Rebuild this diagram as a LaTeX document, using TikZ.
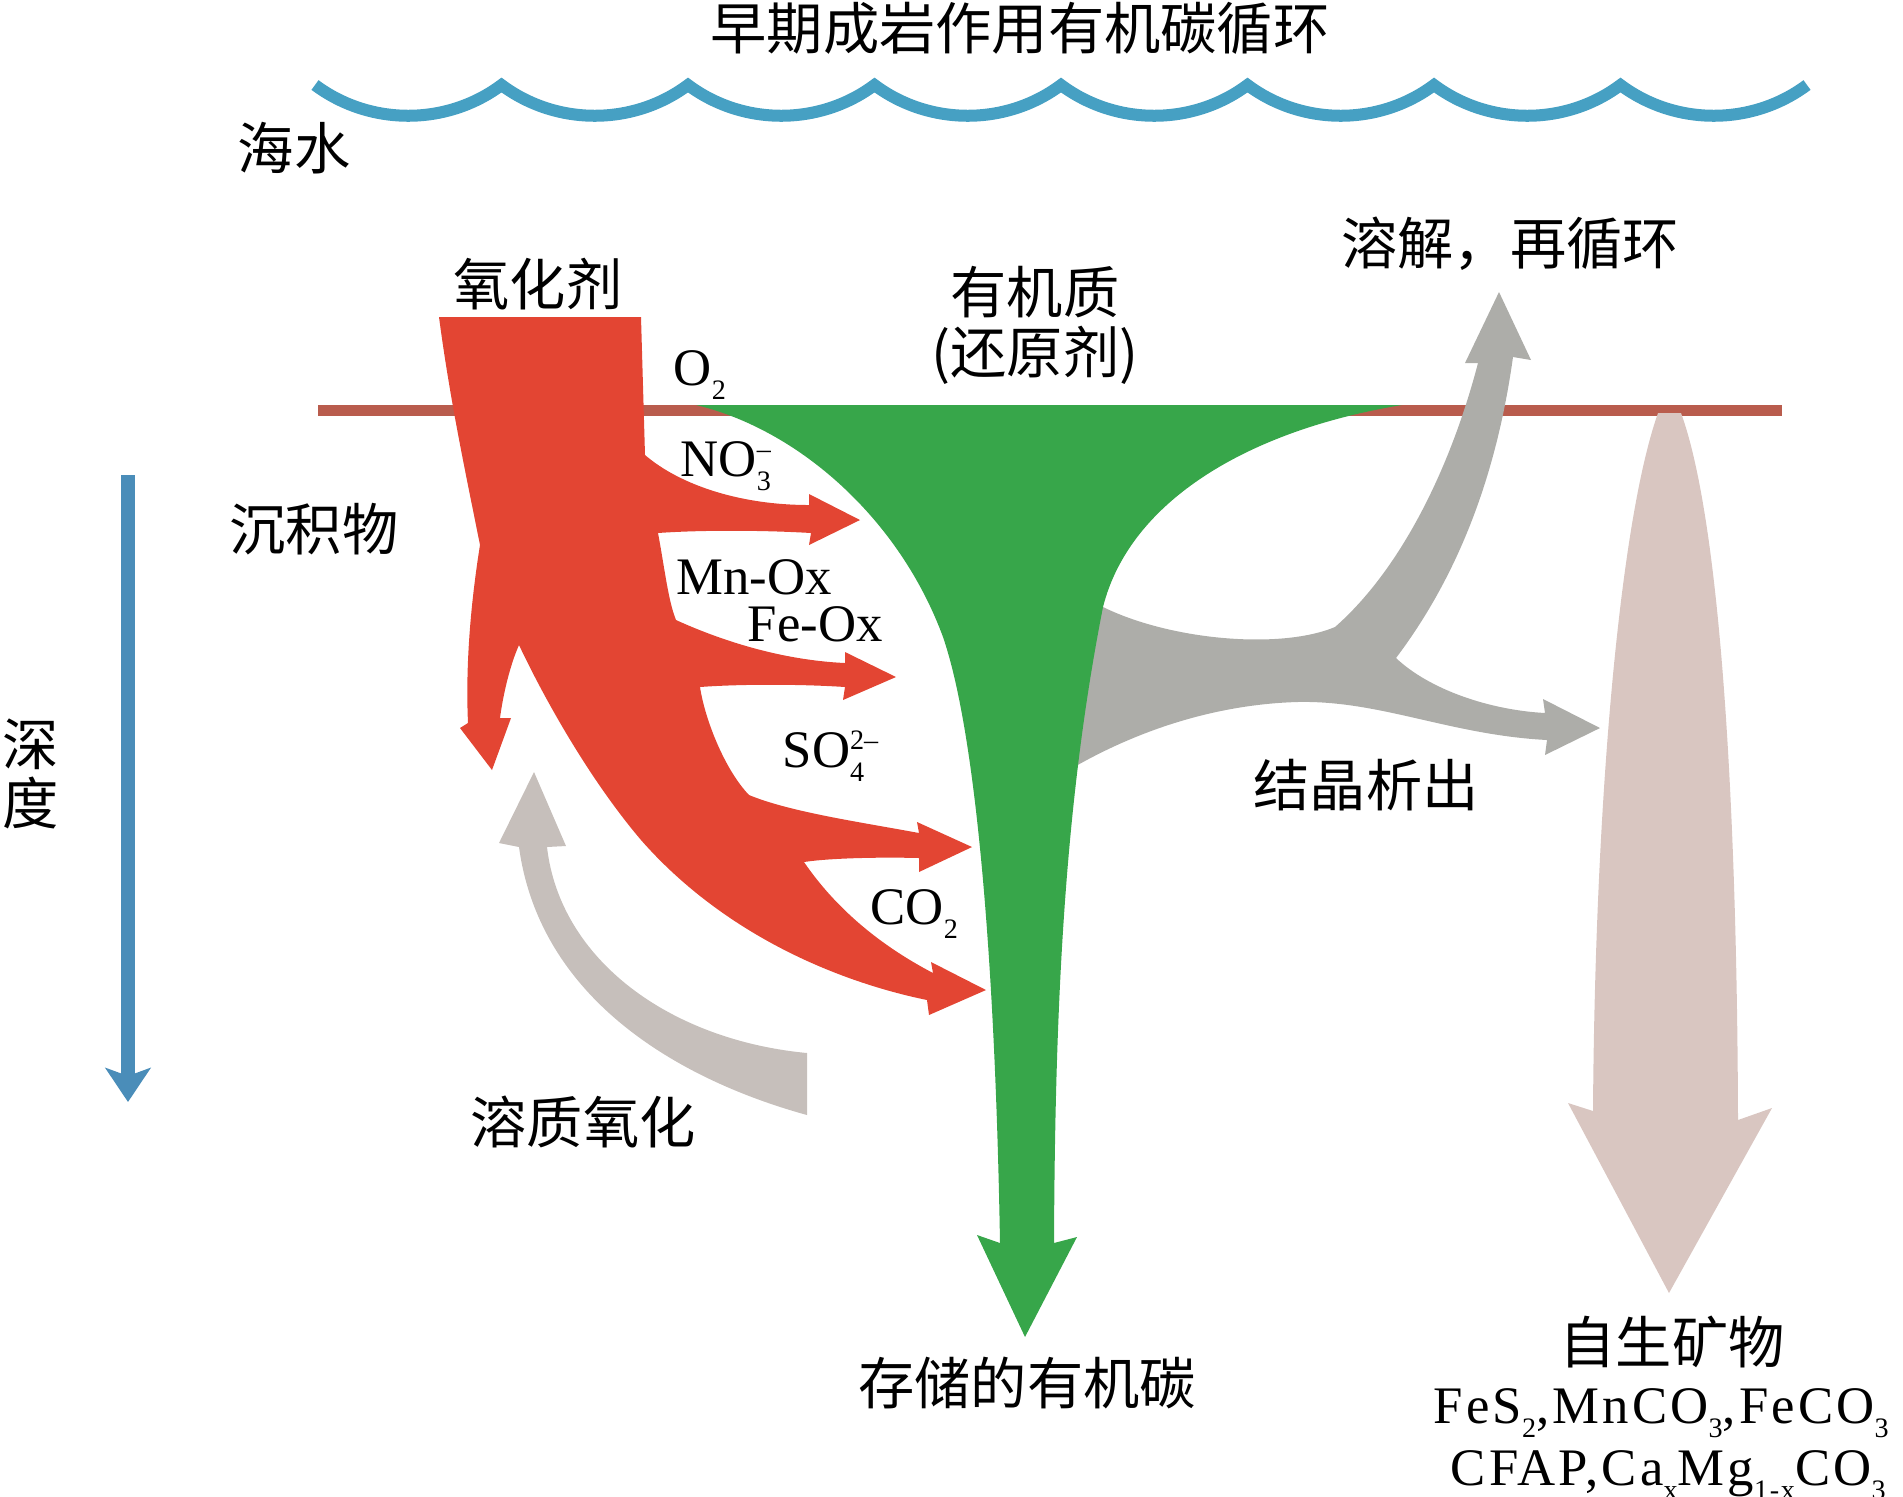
\documentclass[tikz,border=0pt]{standalone}
\usepackage{fontspec}
\setmainfont{Liberation Serif}
\newfontfamily\cjk{Noto Sans CJK SC}
\usetikzlibrary{arrows.meta}
\definecolor{oxred}{HTML}{E34533}
\definecolor{orggreen}{HTML}{37A64A}
\definecolor{crysgray}{HTML}{ADADA9}
\definecolor{solgray}{HTML}{C6BFBB}
\definecolor{minpink}{HTML}{D9C6C1}
\definecolor{seablue}{HTML}{46A0C3}
\definecolor{depthblue}{HTML}{4A8DB9}
\definecolor{sedline}{HTML}{B95C4D}
\newcommand{\chemsub}[1]{\raisebox{-4pt}{\fontsize{8pt}{8pt}\selectfont #1}}
\newcommand{\chemion}[2]{\makebox[0pt][l]{\raisebox{5pt}{\fontsize{8pt}{8pt}\selectfont #2}}\chemsub{#1}}
\tikzset{
  zh/.style={font=\cjk\fontsize{16pt}{17pt}\selectfont, inner sep=0pt},
  lat/.style={font=\fontsize{15pt}{18pt}\selectfont, inner sep=0pt, anchor=base west},
  minlat/.style={lat, font=\addfontfeatures{LetterSpace=6}\fontsize{15pt}{18pt}\selectfont}
}
\begin{document}
\begin{tikzpicture}[x=0.01cm, y=-0.01cm]
  \useasboundingbox (0,0) rectangle (1903,1496);
  % sea surface and sediment surface
  \draw [seablue, line width=0.12cm] (315,85)
    \foreach \k in {1,...,8} { .. controls +(55,41) and +(-55,41) .. ++(186.5,0) };
  \draw [sedline, line width=0.11cm] (318,410) -- (1782,410);
  \draw [depthblue, line width=0.13cm, -{Stealth[length=0.34cm, width=0.45cm, inset=0.08cm]}] (128,475) -- (128,1102);
  % crystallisation / recycling
  \fill [crysgray] (1040,607) -- (1103,607)
    .. controls (1170,640) and (1280,650) .. (1335,627)
    .. controls (1400,570) and (1450,470) .. (1478,363) -- (1465,363) -- (1499,292) -- (1531,360) -- (1513,357)
    .. controls (1500,450) and (1470,560) .. (1396,658)
    .. controls (1430,690) and (1490,710) .. (1545,713) -- (1543,699) -- (1600,728) -- (1545,755) -- (1547,740)
    .. controls (1450,735) and (1380,700) .. (1297,702)
    .. controls (1200,705) and (1120,740) .. (1069,770) -- (1040,770) -- cycle;
  % organic matter
  \fill [orggreen] (696,405) .. controls (800,430) and (900,520) .. (943,637)
    .. controls (975,730) and (995,950) .. (1000,1243) -- (977,1235) -- (1025,1337) -- (1077,1237) -- (1054,1243)
    .. controls (1055,1000) and (1065,800) .. (1103,607)
    .. controls (1130,500) and (1250,430) .. (1402,405) -- cycle;
  % oxidants
  \fill [oxred] (439,317) -- (641,317) -- (645,455)
    .. controls (680,485) and (740,505) .. (809,505) -- (809,494) -- (860,520) -- (809,545) -- (811,533)
    .. controls (760,530) and (700,530) .. (658,533)
    .. controls (665,570) and (668,600) .. (676,620)
    .. controls (720,640) and (780,660) .. (845,663) -- (845,652) -- (896,677) -- (843,700) -- (845,687)
    .. controls (800,684) and (740,684) .. (700,687)
    .. controls (705,720) and (725,770) .. (749,795)
    .. controls (790,812) and (860,822) .. (919,833) -- (917,822) -- (972,847) -- (919,872) -- (919,858)
    .. controls (880,857) and (830,858) .. (804,862)
    .. controls (830,900) and (870,940) .. (933,973) -- (931,962) -- (986,990) -- (929,1015) -- (927,1000)
    .. controls (830,980) and (720,930) .. (641,840)
    .. controls (590,780) and (545,700) .. (519,645)
    .. controls (510,665) and (503,695) .. (500,718) -- (511,718) -- (492,770) -- (460,728) -- (468,723)
    .. controls (466,680) and (468,620) .. (480,545)
    .. controls (465,470) and (450,400) .. (439,317) -- cycle;
  % solute oxidation
  \fill [solgray] (807,1053) -- (807,1115)
    .. controls (680,1080) and (540,1000) .. (519,847) -- (499,843) -- (534,772) -- (566,846) -- (547,847)
    .. controls (560,960) and (670,1040) .. (807,1053) -- cycle;
  % authigenic minerals
  \fill [minpink] (1658,413) -- (1681,413)
    .. controls (1720,520) and (1737,800) .. (1738,1120) -- (1772,1108) -- (1669,1293) -- (1568,1103) -- (1593,1111)
    .. controls (1595,800) and (1620,520) .. (1658,413) -- cycle;
  \node [zh] (title) at (1020,28) {早期成岩作用有机碳循环};
  \node [zh] (sea) at (294,148) {海水};
  \node [zh] (oxid) at (538,284) {氧化剂};
  \node [zh, align=center] (om) at (1035,325) {有机质\\(还原剂)};
  \node [zh] (recyc) at (1510,244) {溶解，再循环};
  \node [zh] (sed) at (314,529) {沉积物};
  \node [zh, align=center] (depth) at (31,774) {深\\度};
  \node [zh] (cryst) at (1366,785) {结晶析出};
  \node [zh] (solox) at (583,1122) {溶质氧化};
  \node [zh] (store) at (1027,1383) {存储的有机碳};
  \node [zh] (auth) at (1672,1342) {自生矿物};
  \node [lat] (o2) at (673,385) {O\chemsub{2}};
  \node [lat] (no3) at (680,476) {NO\chemion{3}{–}};
  \node [lat] (mnox) at (676,594) {Mn-Ox};
  \node [lat] (feox) at (747,641) {Fe-Ox};
  \node [lat] (so4) at (782,767) {SO\chemion{4}{2–}};
  \node [lat] (co2) at (870,924) {CO\chemsub{2}};
  \node [minlat] (min1) at (1433,1423) {FeS\chemsub{2},MnCO\chemsub{3},FeCO\chemsub{3}};
  \node [minlat] (min2) at (1450,1485) {CFAP,Ca\chemsub{x}Mg\chemsub{1-x}CO\chemsub{3}};
\end{tikzpicture}
\end{document}
